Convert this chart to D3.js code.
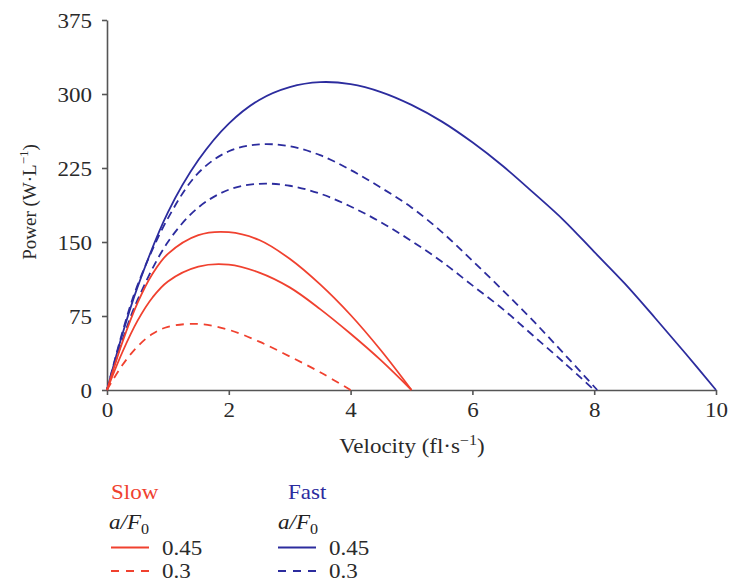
<!DOCTYPE html>
<html>
<head>
<meta charset="utf-8">
<script src="https://cdn.jsdelivr.net/npm/d3@7"></script>
<style>
  body { margin: 0; background: #fff; }
  text { font-family: "Liberation Serif", "Times New Roman", serif; }
</style>
</head>
<body>
<div id="chart"></div>
<script>
// values
const vSlowSolid = [0, 0.25, 0.5, 0.75, 1, 1.5, 2, 2.5, 3, 3.5, 4, 4.5, 5];
const pSlowSolidHigh = [0, 48, 88, 118, 138, 157, 160, 152, 133, 107, 76, 40, 0];
const pSlowSolidLow = [0, 38, 70, 94, 110, 125, 127, 119, 104, 82, 57, 30, 0];

const vSlowDashed = [0, 0.25, 0.5, 0.75, 1, 1.5, 2, 2.5, 3, 3.5, 4];
const pSlowDashed = [0, 25, 44, 57, 64, 67, 61, 49, 34, 18, 0];

const vFastSolid = [0, 0.25, 0.5, 1, 1.5, 2, 2.5, 3, 3.5, 4, 4.5, 5, 5.5, 6, 6.5, 7, 7.5, 8, 8.5, 9, 9.5, 10];
const pFastSolid = [0, 56, 104, 180, 233, 270, 294, 307, 312, 310, 302, 289, 272, 251, 227, 200, 172, 140, 108, 73, 37, 0];

const vFastDashedHigh = [0, 0.25, 0.5, 1, 1.5, 2, 2.5, 3, 3.5, 4, 4.5, 5, 5.5, 6, 6.5, 7, 7.5, 8.05];
const pFastDashedHigh = [0, 58, 106, 174, 220, 242, 249, 247, 238, 223, 205, 185, 160, 131, 101, 70, 37, 0];
const vFastDashedLow = [0, 0.25, 0.5, 1, 1.5, 2, 2.5, 3, 3.5, 4, 4.5, 5, 5.5, 6, 6.5, 7, 7.5, 8];
const pFastDashedLow = [0, 50, 91, 150, 185, 203, 209, 207, 199, 186, 170, 151, 130, 106, 82, 55, 28, 0];

const xTicks = [0, 2, 4, 6, 8, 10];
const yTicks = [0, 75, 150, 225, 300, 375];
const legendValues = ["0.45", "0.3"];

const red = "#f0412f";
const blue = "#2c2c9e";
const axisColor = "#555";
const textColor = "#2a2a2a";
const stretch = 1.15; // the figure's text is a bit wide

const width = 730;
const height = 585;

const svg = d3.select("#chart")
  .append("svg")
  .attr("width", width)
  .attr("height", height);

const x = d3.scaleLinear().domain([0, 10]).range([107, 716]);
const y = d3.scaleLinear().domain([0, 375]).range([390, 20]);

// axes
const xAxis = svg.append("g")
  .attr("transform", `translate(0, ${y(0)})`)
  .call(d3.axisBottom(x).tickValues(xTicks).tickSize(5).tickSizeOuter(0).tickFormat(d3.format("d")));

const yAxis = svg.append("g")
  .attr("transform", `translate(${x(0)}, 0)`)
  .call(d3.axisLeft(y).tickValues(yTicks).tickSize(5).tickSizeOuter(0));

[xAxis, yAxis].forEach((a) => {
  a.attr("font-family", '"Liberation Serif", serif');
  a.select(".domain").attr("stroke", axisColor).attr("stroke-width", 1.6);
  a.selectAll(".tick line").attr("stroke", axisColor).attr("stroke-width", 1.6);
  a.selectAll(".tick text")
    .attr("fill", textColor)
    .style("font-size", "20px");
});
xAxis.selectAll(".tick text").attr("y", 13).attr("dy", "0.71em")
  .attr("transform", `scale(${stretch},1)`);
yAxis.selectAll(".tick text").attr("x", -13).attr("dy", "0.35em")
  .attr("transform", `scale(${stretch},1)`);

// axis titles
const xTitle = svg.append("g")
  .attr("transform", `translate(412, 453) scale(${stretch},1)`)
  .append("text")
  .attr("text-anchor", "middle")
  .attr("fill", textColor)
  .style("font-size", "20px");
xTitle.append("tspan").text("Velocity (fl·s");
xTitle.append("tspan").attr("dy", -8).style("font-size", "14px").text("−1");
xTitle.append("tspan").attr("dy", 8).text(")");

const yTitle = svg.append("text")
  .attr("transform", "translate(36, 202) rotate(-90)")
  .attr("text-anchor", "middle")
  .attr("fill", textColor)
  .style("font-size", "19px");
yTitle.append("tspan").text("Power (W·L");
yTitle.append("tspan").attr("dy", -8).style("font-size", "13px").text("−1");
yTitle.append("tspan").attr("dy", 8).text(")");

// curves
const curves = [
  { v: vFastSolid, p: pFastSolid, color: blue, dash: null },
  { v: vFastDashedHigh, p: pFastDashedHigh, color: blue, dash: "8,5" },
  { v: vFastDashedLow, p: pFastDashedLow, color: blue, dash: "8,5" },
  { v: vSlowSolid, p: pSlowSolidHigh, color: red, dash: null },
  { v: vSlowSolid, p: pSlowSolidLow, color: red, dash: null },
  { v: vSlowDashed, p: pSlowDashed, color: red, dash: "8,6" },
];

const line = d3.line()
  .x((d) => x(d[0]))
  .y((d) => y(d[1]))
  .curve(d3.curveCatmullRom.alpha(0.5));

svg.append("g")
  .selectAll("path")
  .data(curves)
  .enter()
  .append("path")
  .attr("d", (c) => line(c.v.map((v, i) => [v, c.p[i]])))
  .attr("fill", "none")
  .attr("stroke", (c) => c.color)
  .attr("stroke-width", 1.8)
  .attr("stroke-dasharray", (c) => c.dash);

// legend
function legendBlock(title, color, tx, ax, lx) {
  const g = svg.append("g");
  g.append("g")
    .attr("transform", `translate(${tx}, 499) scale(${stretch},1)`)
    .append("text")
    .attr("fill", color)
    .style("font-size", "20px")
    .text(title);

  const af = g.append("g")
    .attr("transform", `translate(${ax}, 529) scale(${stretch},1)`)
    .append("text")
    .attr("fill", "#222")
    .style("font-size", "20px");
  af.append("tspan").style("font-style", "italic").text("a/F");
  af.append("tspan").attr("dy", 5).style("font-size", "14px").text("0");

  legendValues.forEach((val, i) => {
    const ly = 547.5 + i * 23.5;
    g.append("line")
      .attr("x1", lx).attr("x2", lx + 38)
      .attr("y1", ly).attr("y2", ly)
      .attr("stroke", color)
      .attr("stroke-width", 1.8)
      .attr("stroke-dasharray", i === 0 ? null : "8,7");
    g.append("g")
      .attr("transform", `translate(${lx + 51}, ${ly + 7}) scale(${stretch},1)`)
      .append("text")
      .attr("fill", textColor)
      .style("font-size", "20px")
      .text(val);
  });
}

legendBlock("Slow", red, 111, 109, 111);
legendBlock("Fast", blue, 288, 278, 278);
</script>
</body>
</html>
